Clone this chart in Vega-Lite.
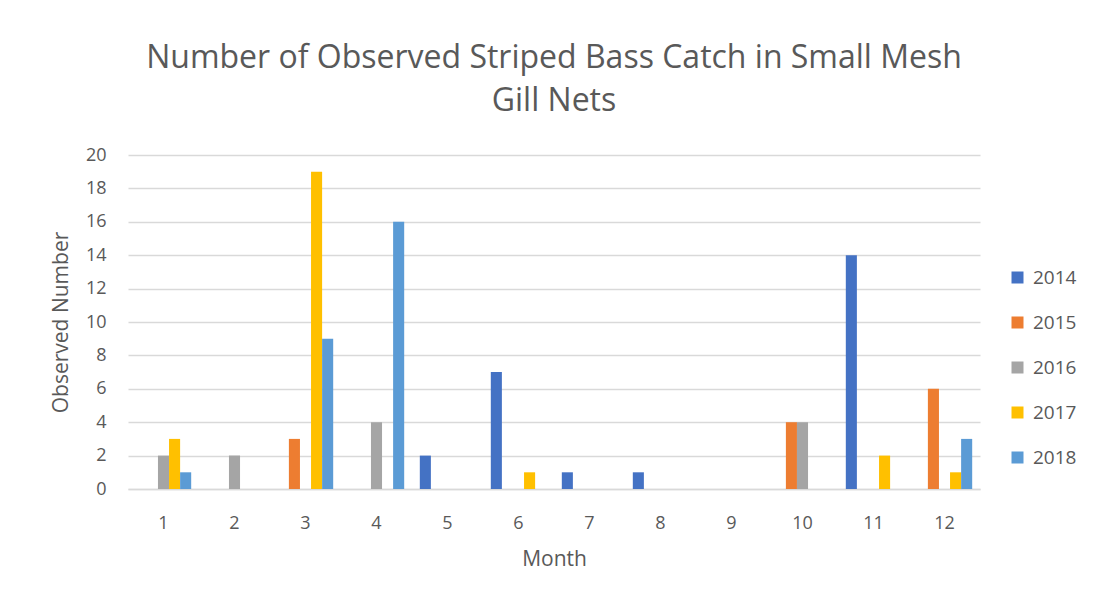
{
  "$schema": "https://vega.github.io/schema/vega-lite/v6.json",
  "width": 852,
  "height": 334,
  "autosize": {"type": "none"},
  "padding": {"left": 128, "top": 155, "right": 125, "bottom": 114},
  "background": "white",
  "config": {"font": "Open Sans", "view": {"stroke": null}},
  "title": {
    "text": ["Number of Observed Striped Bass Catch in Small Mesh", "Gill Nets"],
    "fontSize": 32,
    "fontWeight": "normal",
    "color": "#595959",
    "anchor": "middle",
    "lineHeight": 43,
    "offset": 28
  },
  "data": {
    "values": [
      {"month": 1, "year": "2016", "count": 2},
      {"month": 1, "year": "2017", "count": 3},
      {"month": 1, "year": "2018", "count": 1},
      {"month": 2, "year": "2016", "count": 2},
      {"month": 3, "year": "2015", "count": 3},
      {"month": 3, "year": "2017", "count": 19},
      {"month": 3, "year": "2018", "count": 9},
      {"month": 4, "year": "2016", "count": 4},
      {"month": 4, "year": "2018", "count": 16},
      {"month": 5, "year": "2014", "count": 2},
      {"month": 6, "year": "2014", "count": 7},
      {"month": 6, "year": "2017", "count": 1},
      {"month": 7, "year": "2014", "count": 1},
      {"month": 8, "year": "2014", "count": 1},
      {"month": 9, "year": "2014", "count": 0},
      {"month": 10, "year": "2015", "count": 4},
      {"month": 10, "year": "2016", "count": 4},
      {"month": 11, "year": "2014", "count": 14},
      {"month": 11, "year": "2017", "count": 2},
      {"month": 12, "year": "2015", "count": 6},
      {"month": 12, "year": "2017", "count": 1},
      {"month": 12, "year": "2018", "count": 3}
    ]
  },
  "mark": {"type": "bar"},
  "encoding": {
    "x": {
      "field": "month",
      "type": "ordinal",
      "scale": {"paddingInner": 0.22, "paddingOuter": 0.11},
      "axis": {
        "labelAngle": 0,
        "domain": true,
        "domainColor": "#D9D9D9",
        "domainWidth": 1.5,
        "ticks": false,
        "labelFontSize": 18,
        "labelColor": "#595959",
        "labelPadding": 25,
        "title": "Month",
        "titleFontSize": 21,
        "titleFontWeight": "normal",
        "titleColor": "#595959",
        "titlePadding": 16
      }
    },
    "xOffset": {
      "field": "year",
      "type": "nominal",
      "scale": {"domain": ["2014", "2015", "2016", "2017", "2018"], "paddingInner": 0, "paddingOuter": 0}
    },
    "y": {
      "field": "count",
      "type": "quantitative",
      "scale": {"domain": [0, 20], "nice": false},
      "axis": {
        "values": [0, 2, 4, 6, 8, 10, 12, 14, 16, 18, 20],
        "grid": true,
        "gridColor": "#D9D9D9",
        "gridWidth": 1.5,
        "domain": false,
        "ticks": false,
        "labelFontSize": 18,
        "labelColor": "#595959",
        "labelPadding": 22,
        "title": "Observed Number",
        "titleFontSize": 21,
        "titleFontWeight": "normal",
        "titleColor": "#595959",
        "titlePadding": 14
      }
    },
    "color": {
      "field": "year",
      "type": "nominal",
      "scale": {
        "domain": ["2014", "2015", "2016", "2017", "2018"],
        "range": ["#4472C4", "#ED7D31", "#A5A5A5", "#FFC000", "#5B9BD5"]
      },
      "legend": {
        "title": null,
        "orient": "none",
        "legendX": 880,
        "legendY": 113,
        "symbolType": "square",
        "symbolSize": 144,
        "symbolStrokeWidth": 0,
        "labelFontSize": 19,
        "labelColor": "#595959",
        "labelOffset": 6,
        "rowPadding": 25
      }
    }
  }
}
